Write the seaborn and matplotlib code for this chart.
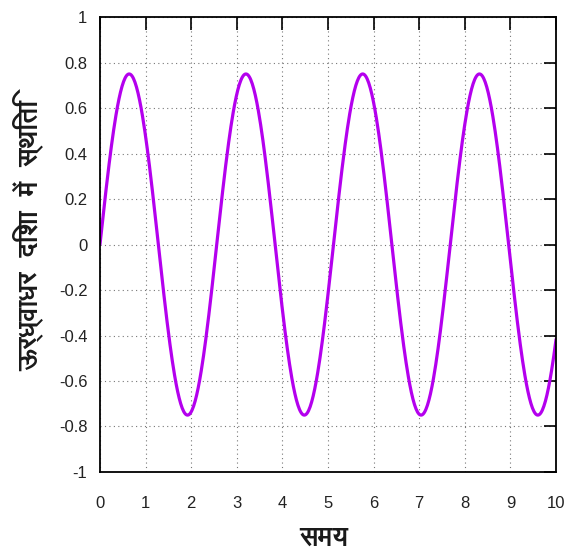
import numpy as np
import pandas as pd
import matplotlib
matplotlib.use("Agg")
import matplotlib.pyplot as plt
import seaborn as sns

# Oscillation: amplitude and period of the vertical position
amplitude = 0.75
period = 2.56
t_start, t_end = 0.0, 10.0

x_ticks = list(range(0, 11))
y_ticks = [-1, -0.8, -0.6, -0.4, -0.2, 0, 0.2, 0.4, 0.6, 0.8, 1]
y_tick_labels = ["-1", "-0.8", "-0.6", "-0.4", "-0.2", "0", "0.2", "0.4", "0.6", "0.8", "1"]

x_label = "समय"
y_label = "ऊर्ध्वाधर  दिशा  में  स्थिति"

t = np.linspace(t_start, t_end, 600)
df = pd.DataFrame({"t": t, "y": amplitude * np.sin(2 * np.pi * t / period)})

sns.set_theme(style="white")
plt.rcParams["font.family"] = ["Liberation Sans", "DejaVu Sans"]
hindi_font = ["FreeSans", "FreeSerif", "DejaVu Sans"]

fig = plt.figure(figsize=(5.68, 5.52), dpi=100)
ax = fig.add_axes([0.176, 0.145, 0.803, 0.824])
sns.lineplot(data=df, x="t", y="y", ax=ax, color="#b400ee", linewidth=2.3)

ax.set_xlim(0, 10)
ax.set_ylim(-1, 1)
ax.set_xticks(x_ticks)
ax.set_yticks(y_ticks)
ax.set_yticklabels(y_tick_labels)
ax.grid(True, linestyle=(0, (1, 3)), color="#777777", linewidth=0.8)
ax.tick_params(direction="in", length=9, width=1.2, top=True, right=True,
               labelsize=12, colors="black", labelcolor="#222222")
ax.tick_params(axis="y", pad=9)
ax.tick_params(axis="x", pad=17)
for s in ax.spines.values():
    s.set_color("black")
    s.set_linewidth(1.3)

ax.set_xlabel(x_label, fontsize=19, family=hindi_font, fontweight="bold",
              color="#1a1a1a", va="center", ha="center")
ax.set_ylabel(y_label, fontsize=19, family=hindi_font, fontweight="bold",
              color="#1a1a1a", va="center", ha="center")
ax.xaxis.set_label_coords(0.49, -0.145)
ax.yaxis.set_label_coords(-0.156, 0.52)
fig.savefig("out.png", dpi=100)
